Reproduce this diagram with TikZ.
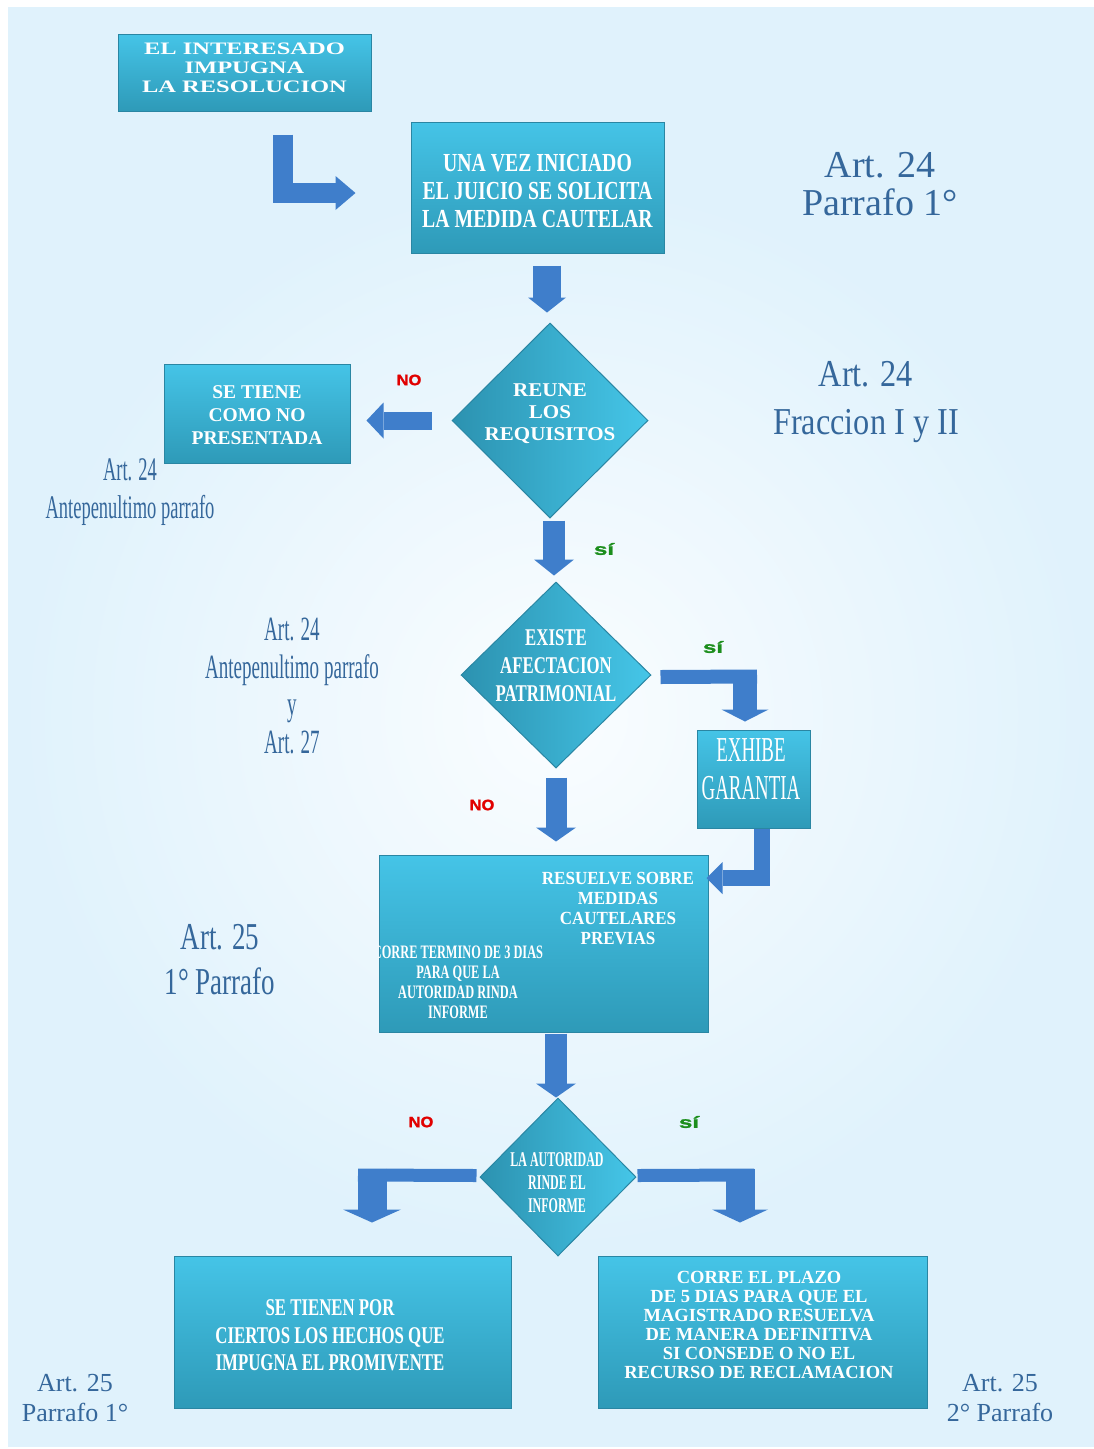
\documentclass[tikz,border=0pt]{standalone}
\usepackage{fontspec}
\setmainfont{Liberation Serif}
\usetikzlibrary{arrows.meta,shapes.geometric,calc}
\newfontfamily\fWide{Liberation Serif}[FakeStretch=1.4]
\newfontfamily\fReune{Liberation Serif}[FakeStretch=1.08]
\newfontfamily\fJuicio{Liberation Serif}[FakeStretch=0.76]
\newfontfamily\fExiste{Liberation Serif}[FakeStretch=0.70]
\newfontfamily\fExhibe{Liberation Serif}[FakeStretch=0.54]
\newfontfamily\fAutor{Liberation Serif}[FakeStretch=0.57]
\newfontfamily\fCorre{Liberation Serif}[FakeStretch=0.65]
\newfontfamily\fRes{Liberation Serif}[FakeStretch=0.92]
\newfontfamily\fHechos{Liberation Serif}[FakeStretch=0.70]
\newfontfamily\fFrac{Liberation Serif}[FakeStretch=0.85]
\newfontfamily\fAnte{Liberation Serif}[FakeStretch=0.56]
\newfontfamily\fArtV{Liberation Serif}[FakeStretch=0.71]
\newfontfamily\fNo{Liberation Sans}[FakeStretch=1.1,FakeBold=1.5]
\newfontfamily\fSi{Liberation Sans}[FakeStretch=1.5,FakeBold=1.5]
\definecolor{bgc}{HTML}{E0F2FC}
\definecolor{bgin}{HTML}{FAFDFF}
\definecolor{boxtop}{HTML}{45C4E7}
\definecolor{boxbot}{HTML}{2E9AB8}
\definecolor{boxedge}{HTML}{2A86A3}
\definecolor{diaL}{HTML}{2C92B0}
\definecolor{diaR}{HTML}{45C6E8}
\definecolor{arrowc}{HTML}{3F7ECB}
\definecolor{artc}{HTML}{35679B}
\definecolor{nored}{HTML}{E10000}
\definecolor{sigreen}{HTML}{1C8E1C}
\tikzset{
  box/.style={rectangle, draw=boxedge, line width=1pt, top color=boxtop, bottom color=boxbot, inner sep=0pt},
  dia/.style={diamond, draw=boxedge, line width=1pt, left color=diaL, right color=diaR, inner sep=0pt},
  txt/.style={text=white, align=center, inner sep=0pt},
  art/.style={text=artc, align=center, inner sep=0pt},
  nolab/.style={text=nored, inner sep=0pt, font=\fNo\bfseries\fontsize{15}{15}\selectfont},
  silab/.style={text=sigreen, inner sep=0pt, font=\fSi\bfseries\fontsize{16}{16}\selectfont},
  blk/.style={draw=arrowc, line join=miter, line cap=butt},
}
\begin{document}
\begin{tikzpicture}[x=1pt,y=-1pt]
\useasboundingbox (0,0) rectangle (1094,1449);
\fill[white] (0,0) rectangle (1094,1449);
\fill[bgc] (8,7) rectangle (1094,1447);
\shade[inner color=bgin, outer color=bgc] (20,180) rectangle (1090,1250);

% boxes and diamonds
\node[box, minimum width=253pt, minimum height=77pt] (b1) at (244.5,72.5) {};
\node[txt, font=\fWide\bfseries\fontsize{17.5}{19}\selectfont] (t1) at (244.5,68) {EL INTERESADO\\IMPUGNA\\LA RESOLUCION};

\node[box, minimum width=253pt, minimum height=131pt] (b2) at (537.5,187.5) {};
\node[txt, font=\fJuicio\bfseries\fontsize{26}{28}\selectfont] (t2) at (537.5,191) {UNA VEZ INICIADO\\EL JUICIO SE SOLICITA\\LA MEDIDA CAUTELAR};

\node[dia, minimum width=196pt, minimum height=195pt] (d1) at (550,420.5) {};
\node[txt, font=\fReune\bfseries\fontsize{19.5}{22}\selectfont] (t3) at (550,414) {REUNE\\LOS\\REQUISITOS};

\node[box, minimum width=186pt, minimum height=99pt] (b3) at (257,413.5) {};
\node[txt, font=\bfseries\fontsize{19.5}{23}\selectfont] (t4) at (257,415) {SE TIENE\\COMO NO\\PRESENTADA};

\node[dia, minimum width=190pt, minimum height=186pt] (d2) at (556,675) {};
\node[txt, font=\fExiste\bfseries\fontsize{24}{28}\selectfont] (t5) at (556,666) {EXISTE\\AFECTACION\\PATRIMONIAL};

\node[box, minimum width=113pt, minimum height=98pt] (b4) at (753.5,779) {};
\node[txt, font=\fExhibe\fontsize{35}{38}\selectfont] (t6) at (751,769) {EXHIBE\\GARANTIA};

\node[box, minimum width=329pt, minimum height=177pt] (b5) at (543.5,943.5) {};
\node[txt, font=\fRes\bfseries\fontsize{18.5}{20}\selectfont] (t7) at (618,909) {RESUELVE SOBRE\\MEDIDAS\\CAUTELARES\\PREVIAS};
\begin{scope}
\clip (b5.north west) rectangle (b5.south east);
\node[txt, font=\fCorre\bfseries\fontsize{19}{20}\selectfont] (t8) at (458,982) {CORRE TERMINO DE 3 DIAS\\PARA QUE LA\\AUTORIDAD RINDA\\INFORME};
\end{scope}

\node[dia, minimum width=156pt, minimum height=158pt] (d3) at (558,1177) {};
\node[txt, font=\fAutor\bfseries\fontsize{21}{23}\selectfont] (t9) at (557,1183) {LA AUTORIDAD\\RINDE EL\\INFORME};

\node[box, minimum width=337pt, minimum height=152pt] (b6) at (342.5,1332) {};
\node[txt, font=\fHechos\bfseries\fontsize{24}{27.5}\selectfont] (t10) at (330,1335.5) {SE TIENEN POR\\CIERTOS LOS HECHOS QUE\\IMPUGNA EL PROMIVENTE};

\node[box, minimum width=329pt, minimum height=152pt] (b7) at (762.5,1332) {};
\node[txt, font=\bfseries\fontsize{18.5}{19}\selectfont] (t11) at (759,1325) {CORRE EL PLAZO\\DE 5 DIAS PARA QUE EL\\MAGISTRADO RESUELVA\\DE MANERA DEFINITIVA\\SI CONSEDE O NO EL\\RECURSO DE RECLAMACION};

% article labels
\node[art, font=\fontsize{38}{38}\selectfont] (a1) at (880,184) {Art. 24\\Parrafo 1°};
\node[art, font=\fFrac\fontsize{38}{48}\selectfont] (a2) at (866,402) {Art. 24\\Fraccion I y II};
\node[art, font=\fAnte\fontsize{33}{38}\selectfont] (a3) at (130,492) {Art. 24\\Antepenultimo parrafo};
\node[art, font=\fAnte\fontsize{34}{37.5}\selectfont] (a4) at (292,686) {Art. 24\\Antepenultimo parrafo\\y\\Art. 27};
\node[art, font=\fArtV\fontsize{38}{45}\selectfont] (a5) at (220,960) {Art. 25\\1° Parrafo};
\node[art, font=\fontsize{26}{30}\selectfont] (a6) at (75,1398) {Art. 25\\Parrafo 1°};
\node[art, font=\fontsize{26}{30}\selectfont] (a7) at (1000,1398) {Art. 25\\2° Parrafo};

% NO / si labels
\node[nolab] (n1) at (409,380) {NO};
\node[silab] (s1) at (604,549) {sí};
\node[silab] (s2) at (713,647) {sí};
\node[nolab] (n2) at (482,805) {NO};
\node[nolab] (n3) at (421,1122) {NO};
\node[silab] (s3) at (689,1122) {sí};

% block arrows
\draw[blk, line width=20pt, -{Triangle[length=20pt,width=34pt,line width=0pt]}]
  ($(b1.south east)+(-89,23)$) |- ($(b2.west)+(-55,5.5)$);
\draw[blk, line width=28pt, -{Triangle[length=15pt,width=38pt,line width=0pt]}]
  ($(b2.south)+(9.5,12)$) -- ($(d1.north)+(-3,-10)$);
\draw[blk, line width=18pt, -{Triangle[length=17pt,width=36pt,line width=0pt]}]
  ($(d1.west)+(-20,0)$) -- ($(b3.east)+(16,7)$);
\draw[blk, line width=22pt, -{Triangle[length=16pt,width=40pt,line width=0pt]}]
  ($(d1.south)+(4,2)$) -- ($(d2.north)+(-2,-6)$);
\draw[blk, line width=14pt]
  ($(d2.east)+(9,2)$) -- ($(b4.north)+(3.5,-53)$);
\draw[blk, line width=24pt, -{Triangle[length=12pt,width=47pt,line width=0pt]}]
  ($(b4.north)+(-8.5,-60)$) -- ($(b4.north)+(-8.5,-8)$);
\draw[blk, line width=21pt, -{Triangle[length=14pt,width=40pt,line width=0pt]}]
  ($(d2.south)+(0,9)$) -- ($(b5.north)+(12.5,-13)$);
\draw[blk, line width=16pt, -{Triangle[length=16pt,width=32pt,line width=0pt]}]
  ($(b4.south)+(8.5,0)$) |- ($(b5.east)+(-2,-65.5)$);
\draw[blk, line width=22pt, -{Triangle[length=14pt,width=40pt,line width=0pt]}]
  ($(b5.south)+(12.5,1)$) -- ($(d3.north)+(-2,0)$);
\draw[blk, line width=13pt]
  ($(d3.west)+(-3,-1.5)$) -- ($(b6.north)+(15.5,-80.5)$);
\draw[blk, line width=29pt, -{Triangle[length=13pt,width=58pt,line width=0pt]}]
  ($(b6.north)+(29.5,-87)$) -- ($(b6.north)+(29.5,-33)$);
\draw[blk, line width=13pt]
  ($(d3.east)+(1,-1.5)$) -- ($(b7.north)+(-8.5,-80.5)$);
\draw[blk, line width=29pt, -{Triangle[length=13pt,width=56pt,line width=0pt]}]
  ($(b7.north)+(-22.5,-87)$) -- ($(b7.north)+(-22.5,-33)$);
\end{tikzpicture}
\end{document}
